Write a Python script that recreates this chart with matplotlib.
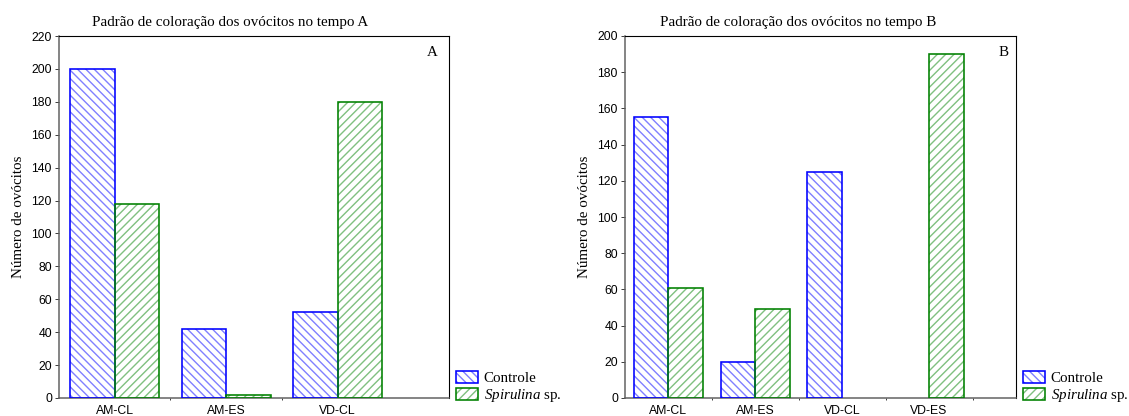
import numpy as np
import matplotlib
matplotlib.use("Agg")
import matplotlib.pyplot as plt
from matplotlib.patches import Patch

# --- DATA ---
cats_a = ["AM-CL", "AM-ES", "VD-CL"]
controle_a = [200, 42, 52]
spirulina_a = [118, 2, 180]

cats_b = ["AM-CL", "AM-ES", "VD-CL", "VD-ES"]
controle_b = [155, 20, 125, 0]
spirulina_b = [61, 49, 0, 190]

titles = ["Padrão de coloração dos ovócitos no tempo A",
          "Padrão de coloração dos ovócitos no tempo B"]
ylabel = "Número de ovócitos"
series_labels = ["Controle", r"$\mathit{Spirulina}$ sp."]

# --- STYLE ---
W, H, DPI = 1129, 416, 100
PT = 72 / DPI  # pixels -> points

plt.rcParams["mathtext.fontset"] = "custom"
plt.rcParams["mathtext.rm"] = "Liberation Serif"
plt.rcParams["mathtext.it"] = "Liberation Serif:italic"
plt.rcParams["hatch.linewidth"] = 1.4 * PT

SERIF = "Liberation Serif"
SANS = "Liberation Sans"
blue_edge, blue_hatch = "#0000ff", "#8080ff"
green_edge, green_hatch = "#008000", "#80c080"
BLUE_HATCH = "\\" * 4
GREEN_HATCH = "/" * 4
EDGE_LW = 1.6 * PT

fig = plt.figure(figsize=(W / DPI, H / DPI), dpi=DPI)


def px_axes(x0, x1, y0, y1):
    return fig.add_axes([x0 / W, 1 - y1 / H, (x1 - x0) / W, (y1 - y0) / H])


def hatched_bar(ax, x, vals, edge, hcol, hatch, width):
    v = np.array(vals, dtype=float)
    v = np.where(v > 0, v, np.nan)
    ax.bar(x, v, width, color="white", edgecolor=hcol, hatch=hatch,
           linewidth=0, zorder=2)
    ax.bar(x, v, width, fill=False, edgecolor=edge, linewidth=EDGE_LW, zorder=3)


def panel(ax, cats, ctrl, spir, ymax, letter, letter_dx, title, title_x):
    x = np.arange(len(cats))
    w = 0.4
    hatched_bar(ax, x - w / 2, ctrl, blue_edge, blue_hatch, BLUE_HATCH, w)
    hatched_bar(ax, x + w / 2, spir, green_edge, green_hatch, GREEN_HATCH, w)

    ax.set_xlim(-0.5, len(cats))
    ax.set_ylim(0, ymax)
    ax.set_yticks(np.arange(0, ymax + 1, 20))
    ax.set_xticks(x)
    ax.set_xticklabels(cats)
    ax.set_xticks(x + 0.5 if len(cats) > 3 else x[:-1] + 0.5, minor=True)
    ax.tick_params(axis="x", which="major", length=0, pad=7 * PT)
    ax.tick_params(axis="x", which="minor", length=2 * PT, width=1 * PT,
                   color="#404040")
    ax.tick_params(axis="y", length=4 * PT, width=1 * PT, pad=3 * PT,
                   color="#404040")
    for lab in ax.get_xticklabels() + ax.get_yticklabels():
        lab.set_fontfamily(SANS)
        lab.set_fontsize(12.3 * PT)
    for s in ("left", "bottom"):
        ax.spines[s].set_color("#606060")
        ax.spines[s].set_linewidth(1.5 * PT)
    for s in ("top", "right"):
        ax.spines[s].set_color("black")
        ax.spines[s].set_linewidth(1.1 * PT)

    ax.set_ylabel(ylabel, fontfamily=SERIF, fontsize=15 * PT, labelpad=6 * PT)
    ax.text(1 - letter_dx / ax.bbox.width, 1 - 16 / ax.bbox.height, letter,
            transform=ax.transAxes, ha="center", va="center",
            fontfamily=SERIF, fontsize=15 * PT)
    fig.text(title_x / W, 1 - 26 / H, title, ha="center", va="baseline",
             fontfamily=SERIF, fontsize=15 * PT)

    handles = [
        (Patch(facecolor="white", edgecolor=blue_hatch, hatch=BLUE_HATCH, linewidth=0),
         Patch(fill=False, edgecolor=blue_edge, linewidth=EDGE_LW)),
        (Patch(facecolor="white", edgecolor=green_hatch, hatch=GREEN_HATCH, linewidth=0),
         Patch(fill=False, edgecolor=green_edge, linewidth=EDGE_LW)),
    ]
    ax.legend(handles, series_labels, loc="lower left",
              bbox_to_anchor=(1 + 7 / ax.bbox.width, -6 / ax.bbox.height),
              frameon=False, borderaxespad=0, borderpad=0,
              handlelength=1.45, handleheight=0.85, handletextpad=0.4,
              labelspacing=0.1, prop={"family": SERIF, "size": 15 * PT})


ax1 = px_axes(59, 449, 36, 398)
ax2 = px_axes(625, 1016, 36, 398)
panel(ax1, cats_a, controle_a, spirulina_a, 220, "A", 17, titles[0], 230)
panel(ax2, cats_b, controle_b, spirulina_b, 200, "B", 12, titles[1], 798)

fig.savefig("out.png", dpi=DPI)
